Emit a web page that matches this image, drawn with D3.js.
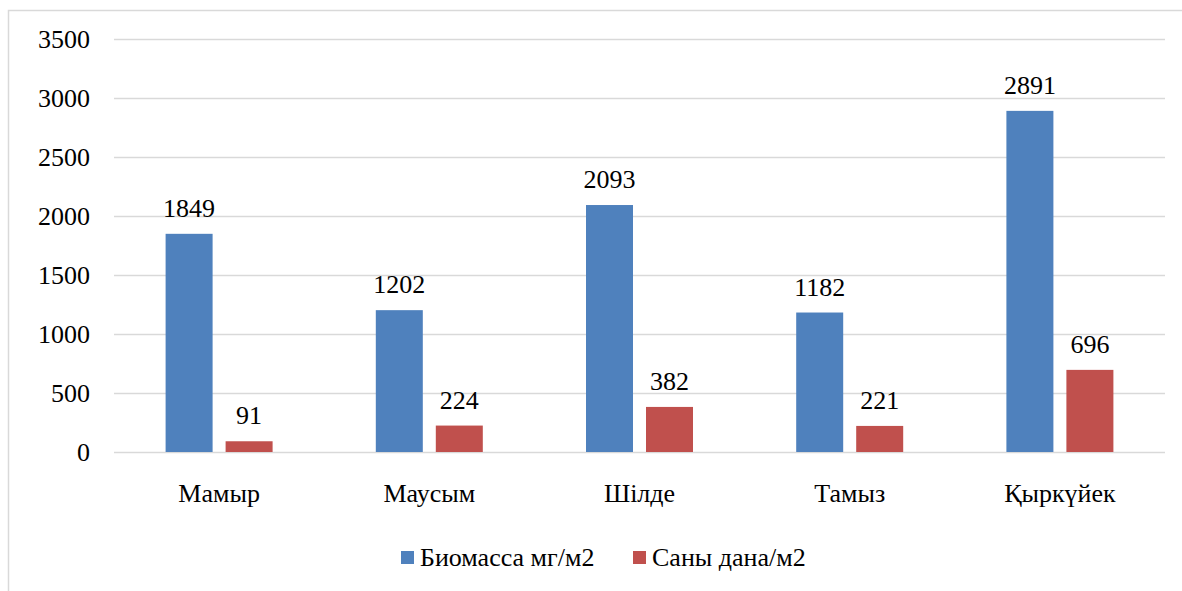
<!DOCTYPE html>
<html>
<head>
<meta charset="utf-8">
<script src="https://cdn.jsdelivr.net/npm/d3@7"></script>
</head>
<body style="margin:0;background:#fff">
<svg id="chart" width="1182" height="591" style="display:block"></svg>
<script>
// Monthly zoobenthos figures
const months = ["Мамыр", "Маусым", "Шілде", "Тамыз", "Қыркүйек"];
const biomass = [1849, 1202, 2093, 1182, 2891];
const counts = [91, 224, 382, 221, 696];
const seriesNames = ["Биомасса мг/м2", "Саны дана/м2"];
const seriesColors = ["#4F81BD", "#C0504D"];
const yTicks = [0, 500, 1000, 1500, 2000, 2500, 3000, 3500];

const FONT = '"Liberation Serif"';
const fontSize = "26px";
const svg = d3.select("#chart");

// applies the chart's text style to a selection of text nodes
function styleText(sel) {
  return sel.style("font-family", FONT).style("font-size", fontSize).style("fill", "#000");
}

// outer chart frame
svg.append("rect")
  .attr("x", 8.5).attr("y", 10.5)
  .attr("width", 1190).attr("height", 620)
  .attr("fill", "#fff").attr("stroke", "#D9D9D9").attr("stroke-width", 1.5);

const plot = { left: 114, right: 1165, top: 39, bottom: 452 };

const x = d3.scaleBand().domain(months).range([plot.left, plot.right]).paddingInner(0).paddingOuter(0);
const y = d3.scaleLinear().domain([0, 3500]).range([plot.bottom, plot.top]);

// horizontal gridlines
svg.append("g").selectAll("line").data(yTicks).join("line")
  .attr("x1", plot.left).attr("x2", plot.right)
  .attr("y1", d => Math.round(y(d)) + 0.5).attr("y2", d => Math.round(y(d)) + 0.5)
  .attr("stroke", "#D9D9D9").attr("stroke-width", 1.5);

// y-axis labels
const yAxis = d3.axisLeft(y).tickValues(yTicks).tickFormat(d3.format("d")).tickSize(0).tickPadding(24);
const gy = svg.append("g").attr("transform", `translate(${plot.left},0)`).call(yAxis)
  .attr("font-family", null).attr("font-size", null);
gy.select(".domain").remove();
styleText(gy.selectAll("text")).attr("dy", "0.34em");

// grouped bars
const barW = 47, gap = 13;
const pairW = barW * 2 + gap;
const inner = d3.scaleBand().domain([0, 1]).range([0, pairW]).paddingInner(2 * gap / (pairW + gap)).paddingOuter(0);
const seriesData = [biomass, counts];

months.forEach((m, i) => {
  const groupX = x(m) + x.bandwidth() / 2 - pairW / 2;
  seriesData.forEach((vals, s) => {
    const v = vals[i];
    const bx = groupX + inner(s);
    svg.append("rect")
      .attr("x", bx).attr("y", y(v))
      .attr("width", inner.bandwidth()).attr("height", y(0) - y(v))
      .attr("fill", seriesColors[s]);
    styleText(svg.append("text"))
      .attr("x", bx + inner.bandwidth() / 2).attr("y", y(v) - 17)
      .attr("text-anchor", "middle")
      .text(v);
  });
});

// x-axis category labels
const xAxis = d3.axisBottom(x).tickSize(0).tickPadding(0);
const gx = svg.append("g").attr("transform", `translate(0,${plot.bottom})`).call(xAxis)
  .attr("font-family", null).attr("font-size", null);
gx.select(".domain").remove();
styleText(gx.selectAll("text")).attr("dy", null).attr("y", 50);

// legend
const legendItems = [
  { name: seriesNames[0], color: seriesColors[0], x: 401 },
  { name: seriesNames[1], color: seriesColors[1], x: 633 }
];
const lg = svg.append("g");
legendItems.forEach(it => {
  lg.append("rect").attr("x", it.x).attr("y", 551).attr("width", 13).attr("height", 13).attr("fill", it.color);
  styleText(lg.append("text")).attr("x", it.x + 19).attr("y", 566).text(it.name);
});
</script>
</body>
</html>
